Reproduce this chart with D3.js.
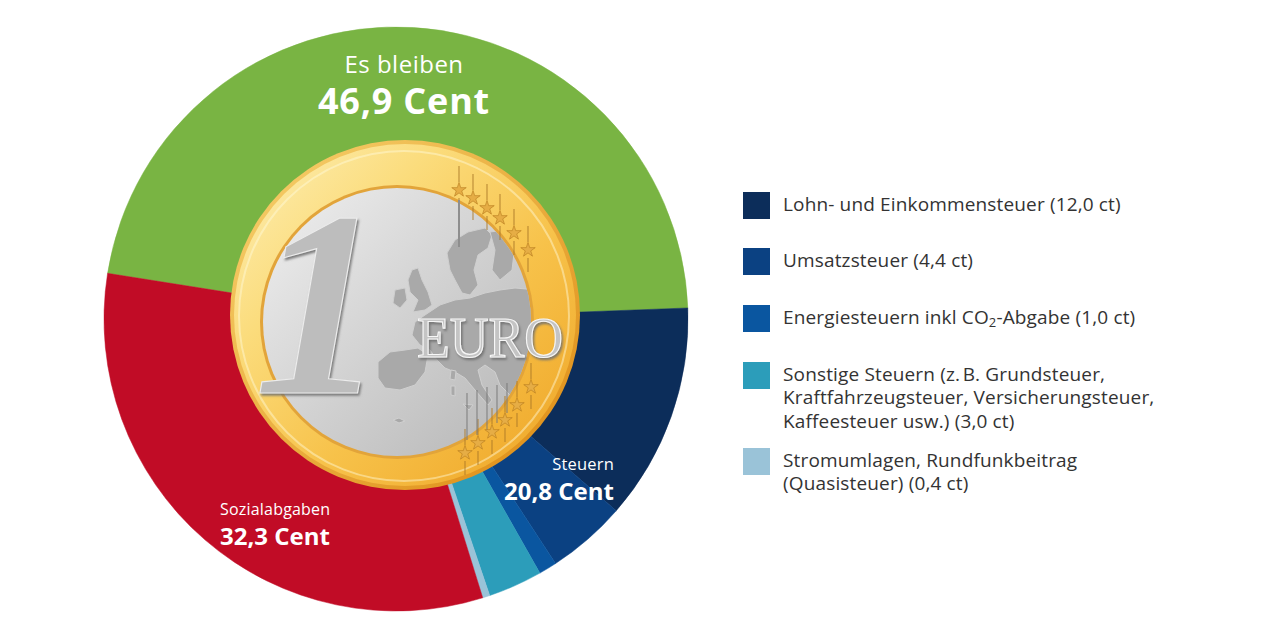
<!DOCTYPE html>
<html>
<head>
<meta charset="utf-8">
<script src="https://cdn.jsdelivr.net/npm/d3@7/dist/d3.min.js"></script>
<style>
  html, body { margin: 0; padding: 0; background: #ffffff; }
  svg { display: block; font-family: "Open Sans", "Noto Sans", sans-serif; }
</style>
</head>
<body>
<svg id="chart" width="1280" height="625"></svg>
<script>
// ---- Data ----
const categories = ["Es bleiben", "Lohn- und Einkommensteuer", "Umsatzsteuer",
  "Energiesteuern inkl CO2-Abgabe", "Sonstige Steuern", "Stromumlagen, Rundfunkbeitrag", "Sozialabgaben"];
const values = [46.9, 12.0, 4.4, 1.0, 3.0, 0.4, 32.3];
const colors = ["#79b443", "#0c2d5a", "#0b4182", "#0a56a0", "#2c9dba", "#9ac3d8", "#c10c26"];
const taxIndices = [1, 2, 3, 4, 5];
const legendLines = [
  [["Lohn- und Einkommensteuer (12,0 ct)"]],
  [["Umsatzsteuer (4,4 ct)"]],
  [["Energiesteuern inkl CO", "2", "-Abgabe (1,0 ct)"]],
  [["Sonstige Steuern (z.\u202FB. Grundsteuer,"], ["Kraftfahrzeugsteuer, Versicherungsteuer,"], ["Kaffeesteuer usw.) (3,0 ct)"]],
  [["Stromumlagen, Rundfunkbeitrag"], ["(Quasisteuer) (0,4 ct)"]]
];
const groupTitles = ["Es bleiben", "Steuern", "Sozialabgaben"];
const groupValues = [values[0], d3.sum(taxIndices, i => values[i]), values[6]];

const fmt = v => d3.format(".1f")(v).replace(".", ",") + " Cent";

// ---- Layout ----
const svg = d3.select("#chart");
const cx = 396, cy = 319, R = 292;
const startDeg = -81;

const defs = svg.append("defs");
const gold = defs.append("linearGradient").attr("id", "goldGrad")
  .attr("x1", "0").attr("y1", "0").attr("x2", "1").attr("y2", "1");
[["0%", "#fdf0b8"], ["30%", "#fbdc7c"], ["60%", "#f7c24a"], ["100%", "#eea324"]]
  .forEach(([o, c]) => gold.append("stop").attr("offset", o).attr("stop-color", c));
const silver = defs.append("linearGradient").attr("id", "silverGrad")
  .attr("x1", "0").attr("y1", "0").attr("x2", "1").attr("y2", "1");
[["0%", "#f0f0f0"], ["45%", "#d5d5d5"], ["100%", "#b5b5b5"]]
  .forEach(([o, c]) => silver.append("stop").attr("offset", o).attr("stop-color", c));
const rim = defs.append("linearGradient").attr("id", "rimGrad")
  .attr("x1", "0").attr("y1", "0").attr("x2", "1").attr("y2", "1");
[["0%", "#f7d26e"], ["100%", "#dd8a12"]]
  .forEach(([o, c]) => rim.append("stop").attr("offset", o).attr("stop-color", c));
const emboss = defs.append("filter").attr("id", "emboss")
  .attr("x", "-10%").attr("y", "-10%").attr("width", "130%").attr("height", "130%");
emboss.append("feDropShadow").attr("dx", 1.5).attr("dy", 2.2).attr("stdDeviation", 0.8)
  .attr("flood-color", "#6f6f6f").attr("flood-opacity", 0.9);

// ---- Pie ----
const pie = d3.pie().sort(null).value(d => d)
  .startAngle(startDeg * Math.PI / 180)
  .endAngle((startDeg + 360) * Math.PI / 180);
const arcs = pie(values);
const arc = d3.arc().innerRadius(0).outerRadius(R);
const gPie = svg.append("g").attr("transform", `translate(${cx},${cy})`);
gPie.selectAll("path").data(arcs).join("path")
  .attr("d", arc).attr("fill", (d, i) => colors[i])
  .attr("stroke", (d, i) => colors[i]).attr("stroke-width", 0.5);

// ---- Coin (decoration) ----
const coinX = 405, coinY = 315, coinR = 175;
const silX = 397, silY = 322, silR = 134;
const coin = svg.append("g");
coin.append("circle").attr("cx", coinX).attr("cy", coinY).attr("r", coinR)
  .attr("fill", "url(#rimGrad)");
coin.append("circle").attr("cx", coinX).attr("cy", coinY).attr("r", coinR - 4)
  .attr("fill", "url(#goldGrad)");
coin.append("circle").attr("cx", coinX - 1).attr("cy", coinY + 1).attr("r", coinR - 10)
  .attr("fill", "none").attr("stroke", "rgba(255,250,220,0.45)").attr("stroke-width", 2);
coin.append("circle").attr("cx", silX).attr("cy", silY).attr("r", silR + 3)
  .attr("fill", "#e2a43a");
coin.append("circle").attr("cx", silX).attr("cy", silY).attr("r", silR)
  .attr("fill", "url(#silverGrad)");

defs.append("clipPath").attr("id", "silClip").append("circle")
  .attr("cx", silX).attr("cy", silY).attr("r", silR);

// rough Europe map (offsets from silver centre)
const mapShapes = [
  [[50,-69],[58,-82],[71,-90],[88,-94],[95,-87],[91,-74],[81,-67],[77,-52],[81,-37],[73,-27],[65,-29],[58,-42],[53,-52]],
  [[93,-90],[108,-92],[118,-77],[115,-52],[103,-42],[95,-52],[98,-72]],
  [[18,0],[28,-7],[43,-17],[58,-22],[73,-24],[88,-29],[103,-32],[118,-34],[140,-32],[140,78],[123,83],[113,73],[103,63],[98,50],[88,43],[81,48],[85,63],[95,78],[91,83],[78,68],[68,56],[58,50],[48,46],[40,38],[33,28],[23,23],[15,13]],
  [[-19,40],[-7,30],[8,28],[21,26],[31,33],[28,50],[18,63],[3,68],[-12,66],[-19,56]],
  [[15,-52],[21,-54],[25,-42],[31,-30],[35,-17],[28,-12],[16,-10],[21,-22],[13,-30],[11,-42]],
  [[-2,-32],[8,-34],[10,-22],[3,-14],[-4,-19]],
  [[54,48],[59,49],[58,58],[53,57]],
  [[54,64],[58,64],[58,74],[54,73]],
  [[66,82],[76,83],[72,88]],
  [[-4,98],[2,96],[8,99],[2,101]]
];
const mapOuter = coin.append("g").attr("clip-path", "url(#silClip)");
const mapG = mapOuter.append("g").attr("transform", `translate(${silX},${silY})`);
mapG.selectAll("path").data(mapShapes).join("path")
  .attr("d", d => d3.line().curve(d3.curveLinearClosed)(d))
  .attr("fill", "#a9a9a9").attr("stroke", "#cfcfcf").attr("stroke-width", 1);

// vertical lines & stars (offsets from coin centre)
const stars = [[54,-125],[68,-117],[82,-107],[95,-97],[109,-82],[123,-65],
               [126,72],[112,90],[100,105],[87,117],[73,128],[60,138]];
const lineG = coin.append("g").attr("transform", `translate(${coinX},${coinY})`);
stars.forEach(([x, y]) => {
  lineG.append("line").attr("x1", x).attr("x2", x).attr("y1", y - 24).attr("y2", y - 8)
    .attr("stroke", "rgba(170,120,40,0.55)").attr("stroke-width", 1.6);
  lineG.append("line").attr("x1", x).attr("x2", x).attr("y1", y + 8).attr("y2", y + 22)
    .attr("stroke", "rgba(170,120,40,0.55)").attr("stroke-width", 1.6);
});
lineG.append("line").attr("x1", 54).attr("x2", 54).attr("y1", -115).attr("y2", -68)
  .attr("stroke", "#8e8e8e").attr("stroke-width", 2);
[[62,78,125],[72,75,120],[82,72,115],[92,70,108],[102,68,98]].forEach(([x, y1, y2]) => {
  lineG.append("line").attr("x1", x).attr("x2", x).attr("y1", y1).attr("y2", y2)
    .attr("stroke", "rgba(120,120,120,0.6)").attr("stroke-width", 1.6);
});
lineG.selectAll("path.star").data(stars).join("path").attr("class", "star")
  .attr("transform", d => `translate(${d[0]},${d[1]})`)
  .attr("d", d3.symbol(d3.symbolStar, 65))
  .attr("fill", "#e6ad45").attr("stroke", "#b57a1c").attr("stroke-width", 0.6);

// "1"
coin.append("text").attr("x", 320).attr("y", 393).attr("text-anchor", "middle")
  .attr("font-family", "Liberation Serif, DejaVu Serif, serif").attr("font-style", "italic")
  .attr("font-weight", 700).attr("font-size", 265).attr("fill", "#bdbdbd")
  .attr("stroke", "#ececec").attr("stroke-width", 1.2).attr("filter", "url(#emboss)").text("1");

// "EURO"
coin.append("text").attr("x", 417).attr("y", 357)
  .attr("font-family", "Liberation Serif, DejaVu Serif, serif").attr("font-size", 58)
  .attr("textLength", 146).attr("lengthAdjust", "spacingAndGlyphs")
  .attr("fill", "#c4c4c4").attr("stroke", "#f7f7f7").attr("stroke-width", 1.2)
  .attr("filter", "url(#emboss)").text("EURO");

// ---- Group labels ----
const labels = svg.append("g").attr("fill", "#ffffff");
const labelPos = [
  { x: 404, y1: 73, dy: 41, anchor: "middle", s1: 24, s2: 36, ls1: 0.5, ls2: 0.8 },
  { x: 614, y1: 470, dy: 30, anchor: "end", s1: 16.5, s2: 24, ls1: 0.2, ls2: 0 },
  { x: 220, y1: 515, dy: 30, anchor: "start", s1: 16, s2: 24, ls1: 0.2, ls2: 0 }
];
groupTitles.forEach((t, i) => {
  const p = labelPos[i];
  const txt = labels.append("text").attr("x", p.x).attr("y", p.y1).attr("text-anchor", p.anchor);
  txt.append("tspan").attr("x", p.x).attr("font-size", p.s1).attr("letter-spacing", p.ls1).text(t);
  txt.append("tspan").attr("x", p.x).attr("dy", p.dy).attr("font-size", p.s2)
    .attr("letter-spacing", p.ls2).attr("font-weight", 700).text(fmt(groupValues[i]));
});

// ---- Legend ----
const legendY = [192, 248, 305, 362, 448];
const leg = svg.append("g");
taxIndices.forEach((ci, k) => {
  leg.append("rect").attr("x", 743).attr("y", legendY[k]).attr("width", 27).attr("height", 27)
    .attr("fill", colors[ci]);
  const t = leg.append("text").attr("x", 783).attr("y", legendY[k] + 19)
    .attr("font-size", 19).attr("letter-spacing", 0.15).attr("fill", "#333333");
  legendLines[k].forEach((parts, li) => {
    if (parts.length === 1) {
      t.append("tspan").attr("x", 783).attr("dy", li === 0 ? 0 : 23.3).text(parts[0]);
    } else {
      t.append("tspan").attr("x", 783).attr("dy", li === 0 ? 0 : 23.3).text(parts[0]);
      t.append("tspan").attr("font-size", 13).attr("dy", 3).text(parts[1]);
      t.append("tspan").attr("dy", -3).text(parts[2]);
    }
  });
});
</script>
</body>
</html>
